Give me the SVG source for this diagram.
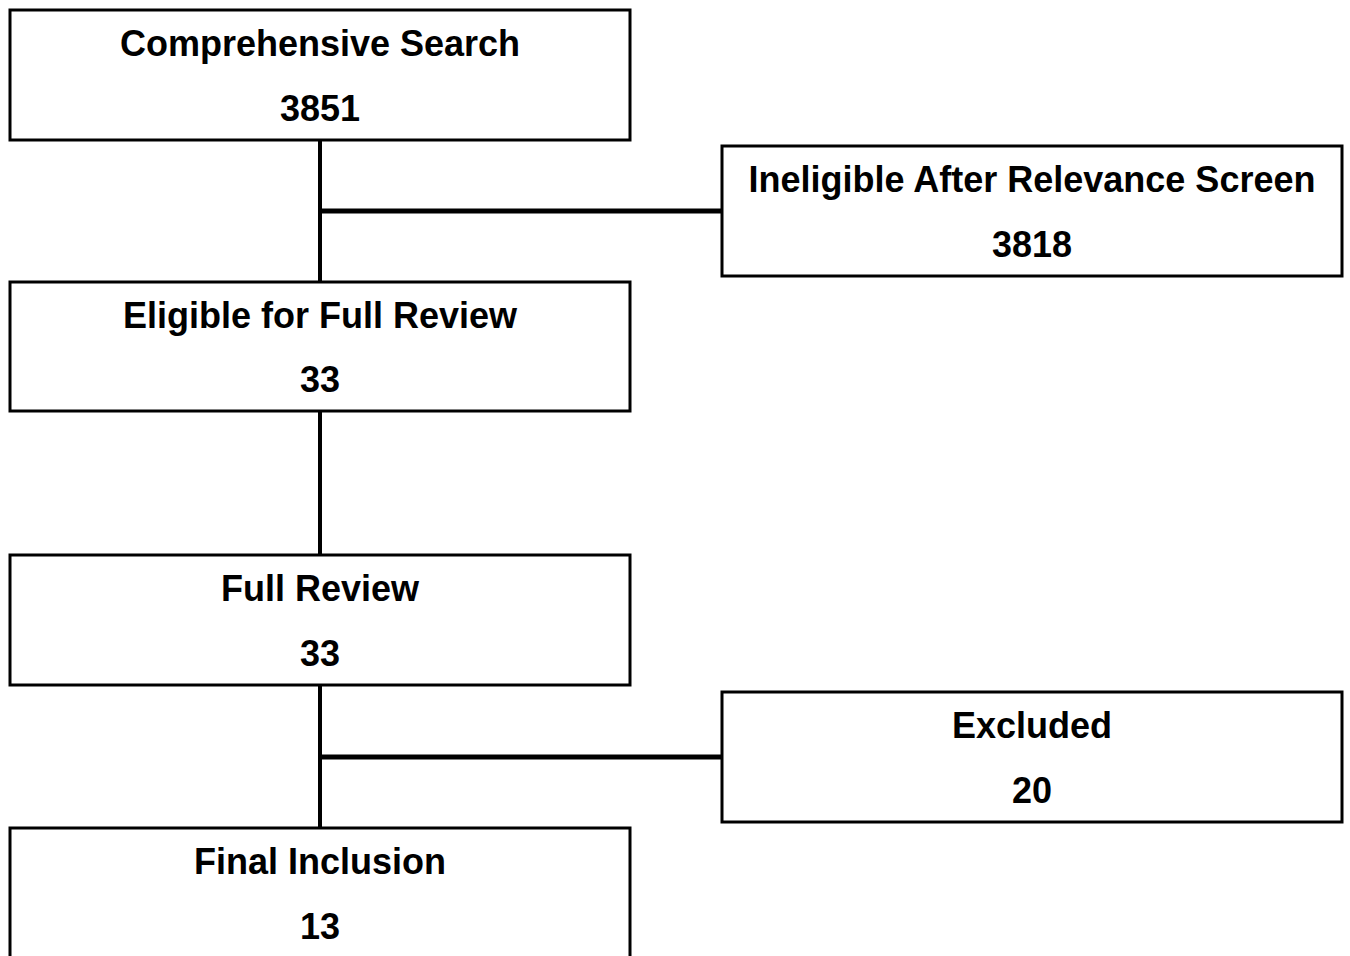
<svg xmlns="http://www.w3.org/2000/svg" width="1350" height="956" viewBox="0 0 1350 956">
<style>
.box{fill:#fff;stroke:#000;stroke-width:3}
.t{font-family:"Liberation Sans",Arial,sans-serif;font-weight:bold;font-size:36px;fill:#000;text-anchor:middle}
.c{stroke:#000;fill:none}
</style>
<rect width="1350" height="956" fill="#fff"/>
<g id="connectors">
<line class="c" x1="320" y1="140" x2="320" y2="282" stroke-width="4"/>
<line class="c" x1="320" y1="211" x2="721" y2="211" stroke-width="5"/>
<line class="c" x1="320" y1="411" x2="320" y2="555" stroke-width="4"/>
<line class="c" x1="320" y1="685" x2="320" y2="828" stroke-width="4"/>
<line class="c" x1="320" y1="757" x2="721" y2="757" stroke-width="5"/>
</g>
<g id="n1">
<rect class="box" x="10" y="10" width="620" height="130"/>
<text class="t" x="320" y="56">Comprehensive Search</text>
<text class="t" x="320" y="121">3851</text>
</g>
<g id="n2">
<rect class="box" x="722" y="146" width="620" height="130"/>
<text class="t" x="1032" y="192">Ineligible After Relevance Screen</text>
<text class="t" x="1032" y="257">3818</text>
</g>
<g id="n3">
<rect class="box" x="10" y="282" width="620" height="129"/>
<text class="t" x="320" y="328">Eligible for Full Review</text>
<text class="t" x="320" y="392">33</text>
</g>
<g id="n4">
<rect class="box" x="10" y="555" width="620" height="130"/>
<text class="t" x="320" y="601">Full Review</text>
<text class="t" x="320" y="666">33</text>
</g>
<g id="n5">
<rect class="box" x="722" y="692" width="620" height="130"/>
<text class="t" x="1032" y="738">Excluded</text>
<text class="t" x="1032" y="803">20</text>
</g>
<g id="n6">
<rect class="box" x="10" y="828" width="620" height="140"/>
<text class="t" x="320" y="874">Final Inclusion</text>
<text class="t" x="320" y="939">13</text>
</g>
</svg>
